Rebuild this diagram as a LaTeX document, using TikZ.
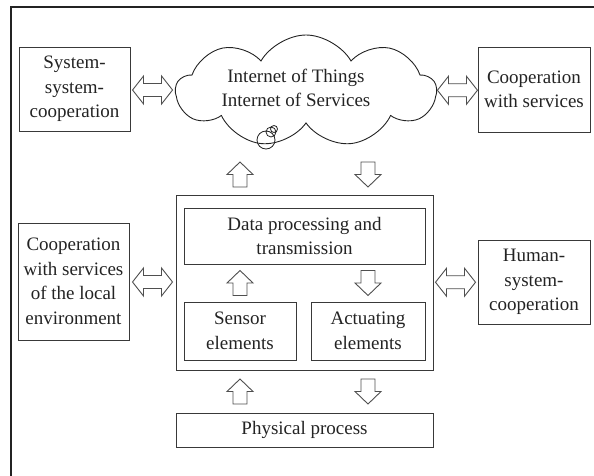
\documentclass[tikz,border=0pt]{standalone}
\usepackage{fontspec}
\setmainfont{Liberation Serif}
\usetikzlibrary{shapes.symbols,calc}
\definecolor{ink}{RGB}{35,35,35}
\tikzset{
  box/.style={draw=ink!90, line width=0.9pt, inner sep=2pt, align=center, text=ink,
    font=\fontsize{19}{24.5}\selectfont},
  hollow/.style={draw=ink!80, line width=0.9pt, fill=white, line join=miter},
  pics/uparr/.style={code={\draw[hollow] (-7,12.5) -- (-7,0) -- (-13,0) -- (0,-12.5) -- (13,0) -- (7,0) -- (7,12.5) -- cycle;}},
  pics/downarr/.style={code={\draw[hollow] (-7,-12.5) -- (-7,0) -- (-13,0) -- (0,12.5) -- (13,0) -- (7,0) -- (7,-12.5) -- cycle;}},
  pics/dblarr/.style={code={\draw[hollow] (-20,0) -- (-9,-14) -- (-9,-6.5) -- (9,-6.5) -- (9,-14) -- (20,0) -- (9,14) -- (9,6.5) -- (-9,6.5) -- (-9,14) -- cycle;}},
}
\begin{document}
\begin{tikzpicture}[x=1pt,y=-1pt]
\useasboundingbox (0,0) rectangle (594,476);
% outer frame
\draw[ink, line width=1.6pt] (11,476) -- (11,7) -- (594,7);
% cloud
\node[draw=ink, line width=0.9pt, cloud, cloud puffs=9, cloud puff arc=120, aspect=2.3,
  minimum width=260pt, minimum height=112pt, inner sep=0pt] (cloud) at (306,91) {};
\node[text=ink, align=center, font=\fontsize{19}{23.5}\selectfont] (cloudtxt) at (296,88) {Internet of Things\\Internet of Services};
\draw[ink, line width=0.8pt] (266,140) circle (9) (271,132) circle (5) (274,129) circle (3.5);
% boxes
\node[box, minimum width=111pt, minimum height=84pt] (sys) at (74.5,89) {System-\\system-\\cooperation};
\node[box, minimum width=112pt, minimum height=85pt] (coop) at (534,89.5) {Cooperation\\with services};
\node[box, minimum width=111pt, minimum height=117pt] (local) at (73.5,281.5) {Cooperation\\with services\\of the local\\environment};
\node[box, minimum width=112pt, minimum height=84pt] (human) at (534,282) {Human-\\system-\\cooperation};
\node[box, minimum width=257pt, minimum height=175pt] (main) at (304.5,282.5) {};
\node[box, minimum width=241pt, minimum height=56pt] (data) at (304.5,236) {Data processing and\\transmission};
\node[box, minimum width=112pt, minimum height=58pt] (sensor) at (240,331) {Sensor\\elements};
\node[box, minimum width=114pt, minimum height=58pt] (act) at (368,331) {Actuating\\elements};
\node[box, minimum width=257pt, minimum height=34pt] (phys) at (304.5,430) {Physical process};
% block arrows
\pic at ($(sys.east)!0.5!(cloud.west)$) {dblarr};
\pic at ($(cloud.east)!0.5!(coop.west)$) {dblarr};
\pic at ($(local.east)!0.5!(main.west)$) {dblarr};
\pic at ($(main.east)!0.5!(human.west)$) {dblarr};
\pic at (sensor.center |- 0,174.5) {uparr};
\pic at (act.center |- 0,174.5) {downarr};
\pic at ($(sensor.north)!0.5!(data.south -| sensor.north)$) {uparr};
\pic at ($(act.north)!0.5!(data.south -| act.north)$) {downarr};
\pic at ($(sensor.center |- main.south)!0.5!(sensor.center |- phys.north)$) {uparr};
\pic at ($(act.center |- main.south)!0.5!(act.center |- phys.north)$) {downarr};
\end{tikzpicture}
\end{document}
